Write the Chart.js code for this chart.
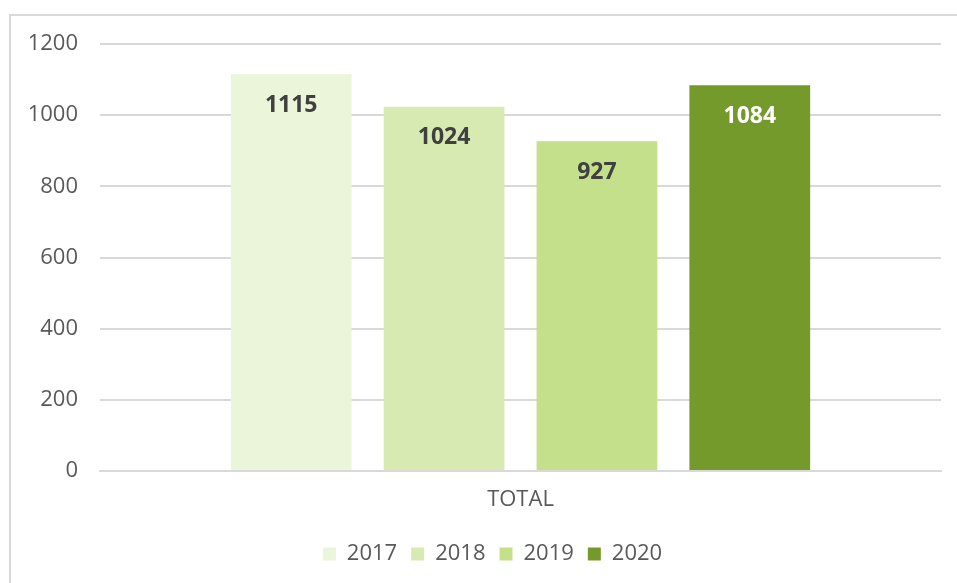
<!DOCTYPE html>
<html>
<head>
<meta charset="utf-8">
<script src="https://cdn.jsdelivr.net/npm/chart.js@4"></script>
<style>
  html, body { margin: 0; padding: 0; background: #fff; }
  #wrap { position: relative; width: 957px; height: 583px; }
</style>
</head>
<body>
<div id="wrap"><canvas id="chart" width="957" height="583"></canvas></div>
<script>
// data
const categories = ['TOTAL'];
const years = ['2017', '2018', '2019', '2020'];
const totals = [1115, 1024, 927, 1084];
const barColors = ['#EAF5DA', '#D7EAB1', '#C4E08B', '#739A2B'];
const labelColors = ['#404040', '#404040', '#404040', '#FFFFFF'];
const yTicks = [0, 200, 400, 600, 800, 1000, 1200];

const FONT = "'Open Sans', 'Noto Sans', sans-serif";

// frame around the chart (runs off the right/bottom edge like the source)
const framePlugin = {
  id: 'frame',
  beforeDraw(chart) {
    const ctx = chart.ctx;
    ctx.save();
    ctx.strokeStyle = '#d9d9d9';
    ctx.lineWidth = 2;
    ctx.strokeRect(10, 15, 2000, 2000);
    ctx.restore();
  },
  // legend in the source is centred under the plot area, not the canvas
  afterLayout(chart) {
    if (chart.legend) {
      chart.legend.left += 22;
      chart.legend.right += 22;
    }
  }
};

// value labels inside the top of each bar
const valueLabels = {
  id: 'valueLabels',
  afterDatasetsDraw(chart) {
    const ctx = chart.ctx;
    ctx.save();
    ctx.font = "bold 23px 'Open Sans', sans-serif";
    ctx.textAlign = 'center';
    ctx.textBaseline = 'middle';
    chart.data.datasets.forEach((ds, i) => {
      const meta = chart.getDatasetMeta(i);
      meta.data.forEach((bar, j) => {
        ctx.fillStyle = labelColors[i];
        ctx.fillText(String(ds.data[j]), bar.x, bar.y + 31);
      });
    });
    ctx.restore();
  }
};

const datasets = years.map((y, i) => ({
  label: y,
  data: [totals[i]],
  backgroundColor: barColors[i],
  borderWidth: 0,
  categoryPercentage: 0.727,
  barPercentage: 0.79
}));

new Chart(document.getElementById('chart').getContext('2d'), {
  type: 'bar',
  data: { labels: categories, datasets: datasets },
  options: {
    responsive: false,
    animation: false,
    layout: { padding: { top: 44, right: 16, left: 0, bottom: 8 } },
    plugins: {
      tooltip: { enabled: false },
      legend: {
        position: 'bottom',
        labels: {
          boxWidth: 13,
          boxHeight: 13,
          padding: 14,
          color: '#595959',
          font: { family: FONT, size: 22 }
        }
      }
    },
    scales: {
      x: {
        grid: { display: false, drawTicks: false },
        border: { display: true, color: '#d9d9d9', width: 2 },
        ticks: { color: '#595959', padding: 16, font: { family: FONT, size: 22 } },
        afterFit(scale) { scale.height = 58; }
      },
      y: {
        min: 0,
        max: 1200,
        afterBuildTicks(scale) { scale.ticks = yTicks.map(v => ({ value: v })); },
        grid: { color: '#d9d9d9', lineWidth: 2, drawTicks: false },
        border: { display: false },
        ticks: {
          color: '#595959',
          padding: 22,
          font: { family: FONT, size: 22 },
          callback: v => String(v)
        },
        afterFit(scale) { scale.width = 100; }
      }
    }
  },
  plugins: [framePlugin, valueLabels]
});
</script>
</body>
</html>
